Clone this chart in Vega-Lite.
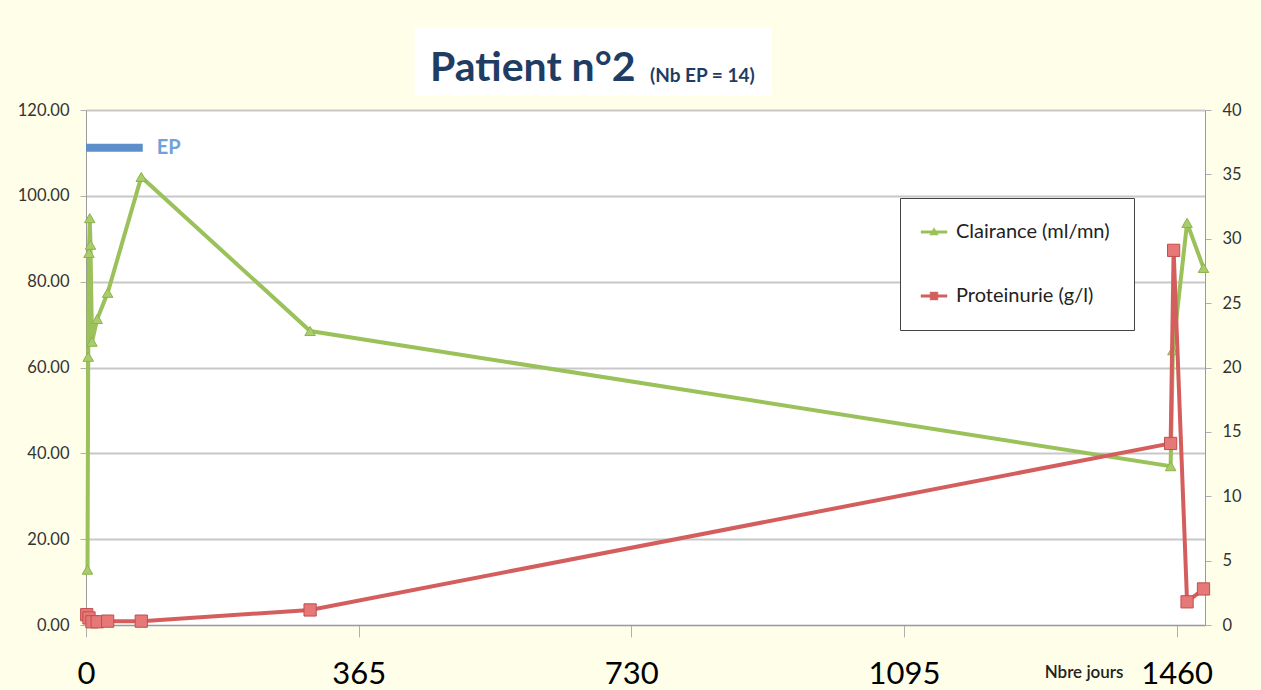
{
  "$schema": "https://vega.github.io/schema/vega-lite/v6.json",
  "width": 1119,
  "height": 515,
  "autosize": "none",
  "padding": {"left": 86, "top": 110, "right": 56, "bottom": 65},
  "background": "#FFFFE9",
  "config": {
    "view": {"fill": "white", "stroke": null},
    "font": "Lato"
  },
  "title": {
    "text": "Patient n°2",
    "anchor": "start",
    "frame": "group",
    "dx": 344,
    "dy": 122,
    "offset": 28,
    "baseline": "alphabetic",
    "fontSize": 41,
    "fontWeight": "bold",
    "font": "Lato",
    "color": "#1F3D63",
    "zindex": 1
  },
  "datasets": {
    "series": [
      {"day": 2, "serie": "Clairance (ml/mn)", "value": 12.9},
      {"day": 3, "serie": "Clairance (ml/mn)", "value": 62.5},
      {"day": 4, "serie": "Clairance (ml/mn)", "value": 86.7},
      {"day": 5, "serie": "Clairance (ml/mn)", "value": 94.8},
      {"day": 6, "serie": "Clairance (ml/mn)", "value": 88.6},
      {"day": 8, "serie": "Clairance (ml/mn)", "value": 66.0},
      {"day": 15, "serie": "Clairance (ml/mn)", "value": 71.3},
      {"day": 29, "serie": "Clairance (ml/mn)", "value": 77.4},
      {"day": 74, "serie": "Clairance (ml/mn)", "value": 104.4},
      {"day": 300, "serie": "Clairance (ml/mn)", "value": 68.5},
      {"day": 1452, "serie": "Clairance (ml/mn)", "value": 37.0},
      {"day": 1455, "serie": "Clairance (ml/mn)", "value": 64.0},
      {"day": 1474, "serie": "Clairance (ml/mn)", "value": 93.7},
      {"day": 1496, "serie": "Clairance (ml/mn)", "value": 83.2},
      {"day": 1, "serie": "Proteinurie (g/l)", "value": 0.8},
      {"day": 4, "serie": "Proteinurie (g/l)", "value": 0.55},
      {"day": 8, "serie": "Proteinurie (g/l)", "value": 0.25},
      {"day": 15, "serie": "Proteinurie (g/l)", "value": 0.25},
      {"day": 29, "serie": "Proteinurie (g/l)", "value": 0.3},
      {"day": 74, "serie": "Proteinurie (g/l)", "value": 0.3},
      {"day": 300, "serie": "Proteinurie (g/l)", "value": 1.17},
      {"day": 1452, "serie": "Proteinurie (g/l)", "value": 14.1},
      {"day": 1456, "serie": "Proteinurie (g/l)", "value": 29.1},
      {"day": 1474, "serie": "Proteinurie (g/l)", "value": 1.8},
      {"day": 1496, "serie": "Proteinurie (g/l)", "value": 2.8}
    ],
    "ep": [{"day": 0, "day2": 76, "value": 111.2, "label": "EP"}],
    "note": [{"day": 755, "value": 126.5, "label": "(Nb EP = 14)"}],
    "box": [{"day": 440, "day2": 918, "value": 123.3, "value2": 139.2}]
  },
  "layer": [
    {
      "layer": [
        {
          "data": {"name": "box"},
          "mark": {"type": "rect", "fill": "white", "clip": false},
          "encoding": {
            "x": {"field": "day", "type": "quantitative"},
            "x2": {"field": "day2"},
            "y": {"field": "value", "type": "quantitative"},
            "y2": {"field": "value2"}
          }
        },
        {
          "data": {"name": "series"},
          "transform": [{"filter": "datum.serie == 'Clairance (ml/mn)'"}],
          "mark": {"type": "line", "strokeWidth": 4},
          "encoding": {
            "x": {
              "field": "day", "type": "quantitative",
              "scale": {"domain": [0, 1498], "nice": false, "zero": false},
              "axis": {
                "title": "Nbre jours",
                "values": [0, 365, 730, 1095, 1460],
                "format": "d",
                "labelFlush": false,
                "grid": false,
                "domainColor": "#9a9a9a",
                "tickColor": "#b0b0b0",
                "tickSize": 12,
                "labelFontSize": 31,
                "labelColor": "#000000",
                "labelPadding": 22,
                "labelFont": "Lato",
                "titleFontSize": 17,
                "titleFontWeight": 600,
                "titleColor": "#222222",
                "titleAnchor": "end",
                "titleAlign": "right",
                "titleX": 1037,
                "titleY": 47,
                "titleBaseline": "middle"
              }
            },
            "y": {
              "field": "value", "type": "quantitative",
              "scale": {"domain": [0, 120], "nice": false},
              "axis": {
                "title": null,
                "values": [0, 20, 40, 60, 80, 100, 120],
                "format": ".2f",
                "grid": true,
                "gridColor": "#c8c8c8",
                "gridWidth": 2,
                "domainColor": "#9a9a9a",
                "tickColor": "#b0b0b0",
                "tickSize": 6,
                "labelFontSize": 16.5,
                "labelColor": "#333333",
                "labelPadding": 11
              }
            },
            "color": {
              "field": "serie", "type": "nominal",
              "scale": {"domain": ["Clairance (ml/mn)", "Proteinurie (g/l)"], "range": ["#9BC15A", "#D45E5E"]},
              "legend": {
                "orient": "none",
                "legendX": 814,
                "legendY": 88,
                "title": null,
                "strokeColor": "#444444",
                "fillColor": "white",
                "padding": 24,
                "labelFontSize": 20,
                "labelColor": "#222222",
                "labelOffset": 12,
                "symbolSize": 300,
                "rowPadding": 44,
                "cornerRadius": 0,
                "encode": {
                  "symbols": {
                    "update": {
                      "shape": {"signal": "datum.value == 'Clairance (ml/mn)' ? 'M-1.5,-0.13H1.5V0.13H-1.5Z M-0.5,0.35L0,-0.5L0.5,0.35Z' : 'M-1.5,-0.13H1.5V0.13H-1.5Z M-0.45,-0.45H0.45V0.45H-0.45Z'"},
                      "fill": {"signal": "scale('color', datum.value)"},
                      "stroke": {"signal": "scale('color', datum.value)"},
                      "strokeWidth": {"value": 0.5},
                      "opacity": {"value": 1}
                    }
                  }
                }
              }
            }
          }
        },
        {
          "data": {"name": "series"},
          "transform": [{"filter": "datum.serie == 'Clairance (ml/mn)'"}],
          "mark": {"type": "point", "shape": "triangle-up", "size": 110, "filled": true, "fill": "#A9CD6B", "stroke": "#8DB24E", "strokeWidth": 1, "opacity": 1},
          "encoding": {
            "x": {"field": "day", "type": "quantitative"},
            "y": {"field": "value", "type": "quantitative"}
          }
        },
        {
          "data": {"name": "ep"},
          "mark": {"type": "rule", "strokeWidth": 8, "color": "#5E8FCB", "strokeCap": "butt"},
          "encoding": {
            "x": {"field": "day", "type": "quantitative"},
            "x2": {"field": "day2"},
            "y": {"field": "value", "type": "quantitative"}
          }
        },
        {
          "data": {"name": "ep"},
          "mark": {"type": "text", "align": "left", "baseline": "middle", "dx": 14, "fontSize": 20, "fontWeight": "bold", "color": "#6FA1DC"},
          "encoding": {
            "x": {"field": "day2", "type": "quantitative"},
            "y": {"field": "value", "type": "quantitative"},
            "text": {"field": "label"}
          }
        },
        {
          "data": {"name": "note"},
          "mark": {"type": "text", "align": "left", "baseline": "alphabetic", "fontSize": 19, "fontWeight": "bold", "color": "#1F3D63", "clip": false},
          "encoding": {
            "x": {"field": "day", "type": "quantitative"},
            "y": {"field": "value", "type": "quantitative"},
            "text": {"field": "label"}
          }
        }
      ]
    },
    {
      "layer": [
        {
          "data": {"name": "series"},
          "transform": [{"filter": "datum.serie == 'Proteinurie (g/l)'"}],
          "mark": {"type": "line", "strokeWidth": 4, "color": "#D45E5E"},
          "encoding": {
            "x": {"field": "day", "type": "quantitative"},
            "y": {
              "field": "value", "type": "quantitative",
              "scale": {"domain": [0, 40], "nice": false},
              "axis": {
                "orient": "right",
                "title": null,
                "values": [0, 5, 10, 15, 20, 25, 30, 35, 40],
                "grid": false,
                "domainColor": "#9a9a9a",
                "tickColor": "#b0b0b0",
                "tickSize": 6,
                "labelFontSize": 16.5,
                "labelColor": "#333333",
                "labelPadding": 11
              }
            }
          }
        },
        {
          "data": {"name": "series"},
          "transform": [{"filter": "datum.serie == 'Proteinurie (g/l)'"}],
          "mark": {"type": "point", "shape": "square", "size": 150, "filled": true, "fill": "#E67878", "stroke": "#C24E4E", "strokeWidth": 1, "opacity": 1},
          "encoding": {
            "x": {"field": "day", "type": "quantitative"},
            "y": {"field": "value", "type": "quantitative"}
          }
        }
      ]
    }
  ],
  "resolve": {"scale": {"y": "independent"}}
}
